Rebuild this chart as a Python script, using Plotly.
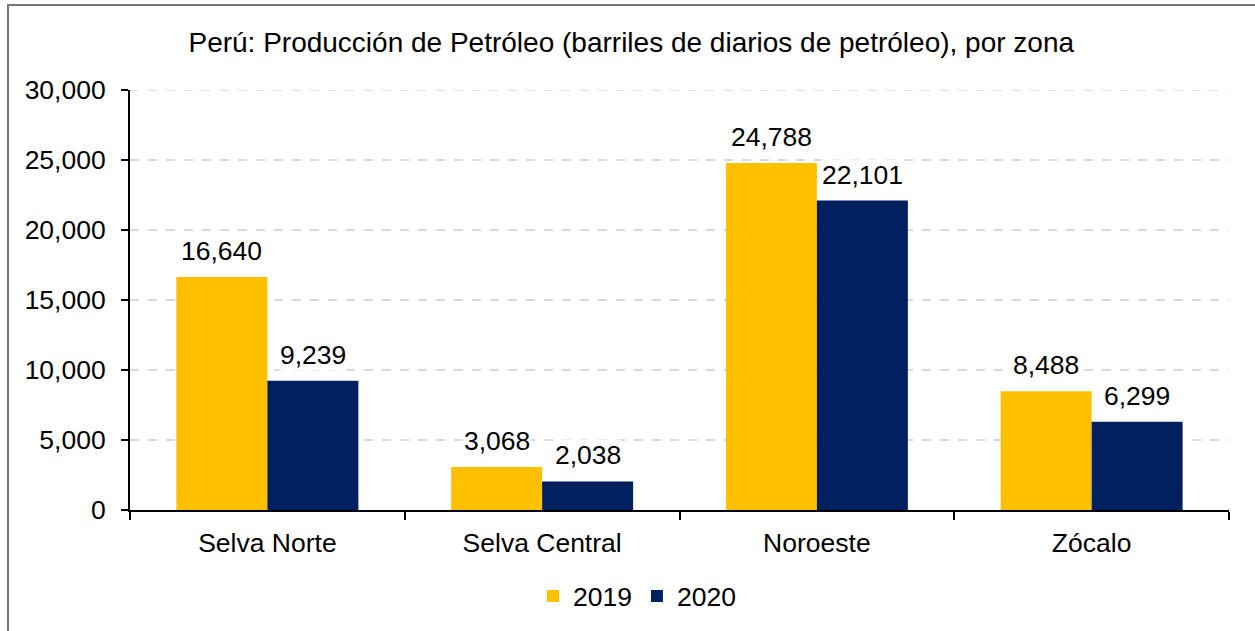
import plotly.graph_objects as go

categories = ["Selva Norte", "Selva Central", "Noroeste", "Zócalo"]
series_names = ["2019", "2020"]
values_2019 = [16640, 3068, 24788, 8488]
values_2020 = [9239, 2038, 22101, 6299]
y_ticks = [0, 5000, 10000, 15000, 20000, 25000, 30000]
title_text = "Perú: Producción de Petróleo (barriles de diarios de petróleo), por zona"

colors = ["#FFC000", "#002060"]
FONT = "Liberation Sans, Arial, sans-serif"
FS = 26.5
TFS = 28
GRID = "#D9D9D9"

fig = go.Figure()
for name, vals, col in zip(series_names, [values_2019, values_2020], colors):
    fig.add_trace(go.Bar(
        x=categories, y=vals, name=name,
        marker=dict(color=col, line=dict(width=0)),
        hoverinfo="x+y",
    ))

W, H, L, R, T, B = 1255, 631, 130, 26, 90, 120.5
plot_w = W - L - R
plot_h = H - T - B
bar_w = plot_w / len(categories) * (1 - 0.3376) / 2
for vals, sgn in [(values_2019, -1), (values_2020, 1)]:
    for c, v in zip(categories, vals):
        fig.add_annotation(
            x=c, y=v, xref="x", yref="y",
            text=f"{v:,}", showarrow=False,
            xshift=sgn * bar_w / 2, yshift=10,
            yanchor="bottom", bgcolor="white", borderpad=0,
            font=dict(family=FONT, size=FS, color="#000000"),
        )

fig.update_layout(
    width=W, height=H,
    margin=dict(l=L, r=R, t=T, b=B, autoexpand=False),
    paper_bgcolor="white", plot_bgcolor="white",
    barmode="group", bargap=0.3376, bargroupgap=0,
    font=dict(family=FONT, size=FS, color="#000000"),
    title=dict(text=title_text, x=0.503, xanchor="center", y=1 - 42 / H, yanchor="middle",
               font=dict(family=FONT, size=TFS, color="#000000")),
    showlegend=True,
    legend=dict(orientation="h", x=(637 - L) / plot_w, xanchor="center", y=-(597 - (H - B)) / plot_h,
                yanchor="middle", font=dict(family=FONT, size=FS), itemwidth=30,
                bgcolor="rgba(0,0,0,0)"),
    xaxis=dict(
        showline=True, linecolor="#000000", linewidth=2,
        ticks="outside", tickson="boundaries", ticklen=8, tickwidth=2, tickcolor="#000000",
        ticklabelstandoff=8,
        showgrid=False, tickfont=dict(family=FONT, size=FS), fixedrange=True,
    ),
    yaxis=dict(
        range=[0, y_ticks[-1]], tickvals=y_ticks, tickformat=",d",
        showline=True, linecolor="#000000", linewidth=2,
        ticks="outside", ticklen=7, tickwidth=2, tickcolor="#000000",
        ticklabelstandoff=10,
        showgrid=True, gridcolor=GRID, gridwidth=1.5, griddash="dash",
        zeroline=False, tickfont=dict(family=FONT, size=FS), fixedrange=True,
    ),
    shapes=[
        dict(type="rect", xref="paper", yref="paper",
             x0=(8 - L) / plot_w, x1=1.2, y0=-0.5, y1=(H - B - 5) / plot_h,
             line=dict(color="#767676", width=2), fillcolor="rgba(0,0,0,0)", layer="below"),
        dict(type="line", xref="paper", yref="y", x0=0, x1=1, y0=y_ticks[-1], y1=y_ticks[-1],
             line=dict(color=GRID, width=1.5, dash="dash"), layer="below"),
    ],
)

fig.write_html("out.html", config={"displayModeBar": False},
               post_script="document.body.style.margin='0';document.body.style.overflow='hidden';")
